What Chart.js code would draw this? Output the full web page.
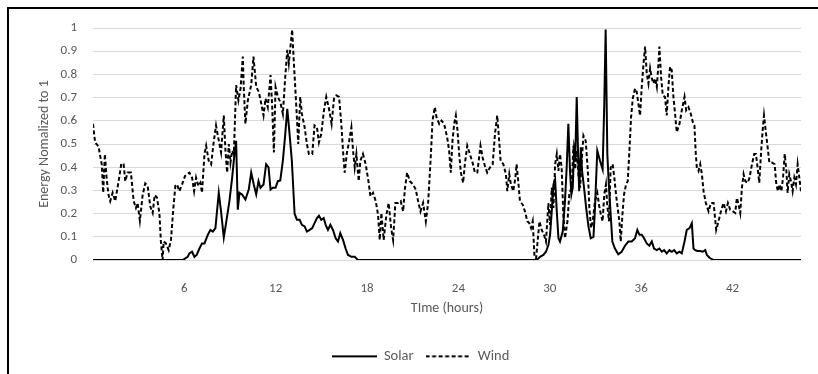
<!DOCTYPE html>
<html>
<head>
<meta charset="utf-8">
<script src="https://cdn.jsdelivr.net/npm/chart.js@4"></script>
<style>
  html, body { margin: 0; padding: 0; background: #fff; overflow: hidden; }
  .frame {
    position: absolute; left: 7px; top: 7px; width: 900px; height: 500px;
    border-top: 2px solid #000; border-left: 2px solid #000;
  }
  #chart { position: absolute; left: 0; top: 0; }
</style>
</head>
<body>
<div class="frame"></div>
<canvas id="chart" width="818" height="374"></canvas>
<script>
// hours and normalized values
const solarHours = [0, 5.89, 6.22, 6.33, 6.51, 6.66, 6.81, 6.99, 7.16, 7.32, 7.54, 7.71, 7.87, 8.04, 8.26, 8.41, 8.59, 8.79, 8.96, 9.14,
  9.29, 9.4, 9.51, 9.62, 9.79, 10.01, 10.23, 10.39, 10.56, 10.72, 10.87, 11.0, 11.2, 11.37, 11.53, 11.66, 11.81, 11.99, 12.14, 12.3,
  12.47, 12.62, 12.76, 12.91, 13.06, 13.24, 13.39, 13.57, 13.72, 13.9, 14.05, 14.23, 14.4, 14.55, 14.71, 14.84, 14.99, 15.15, 15.28, 15.43,
  15.59, 15.76, 15.94, 16.09, 16.24, 16.42, 16.59, 16.75, 16.97, 17.19, 17.41, 29.14, 29.36, 29.58, 29.75, 29.91, 30.02, 30.13, 30.24, 30.35,
  30.46, 30.57, 30.67, 30.85, 31.0, 31.11, 31.22, 31.33, 31.42, 31.51, 31.6, 31.68, 31.77, 31.86, 31.93, 32.04, 32.12, 32.25, 32.39, 32.54,
  32.69, 32.87, 32.97, 33.12, 33.3, 33.47, 33.58, 33.67, 33.78, 33.89, 34.0, 34.11, 34.28, 34.5, 34.72, 34.94, 35.16, 35.38, 35.6, 35.75,
  35.89, 36.04, 36.19, 36.37, 36.54, 36.7, 36.85, 37.03, 37.2, 37.36, 37.51, 37.68, 37.86, 38.01, 38.17, 38.34, 38.52, 38.67, 38.85, 39.0,
  39.18, 39.33, 39.44, 39.55, 39.7, 39.88, 40.05, 40.21, 40.32, 40.49, 40.76, 46.5];
const solarValues = [0, 0, 0.014, 0.029, 0.036, 0.014, 0.022, 0.05, 0.072, 0.072, 0.109, 0.13, 0.123, 0.138, 0.29, 0.21, 0.097, 0.181, 0.254, 0.355,
  0.457, 0.514, 0.217, 0.29, 0.283, 0.261, 0.304, 0.377, 0.326, 0.283, 0.34, 0.312, 0.326, 0.413, 0.399, 0.304, 0.312, 0.312, 0.34, 0.343,
  0.428, 0.536, 0.652, 0.543, 0.428, 0.2, 0.174, 0.174, 0.152, 0.145, 0.123, 0.13, 0.138, 0.159, 0.181, 0.191, 0.174, 0.181, 0.152, 0.13,
  0.152, 0.13, 0.094, 0.08, 0.116, 0.087, 0.05, 0.022, 0.014, 0.014, 0, 0, 0.014, 0.022, 0.036, 0.065, 0.109, 0.21, 0.326, 0.348,
  0.21, 0.094, 0.08, 0.123, 0.254, 0.399, 0.587, 0.384, 0.283, 0.312, 0.486, 0.457, 0.703, 0.457, 0.297, 0.486, 0.384, 0.312, 0.225, 0.145,
  0.094, 0.1, 0.225, 0.471, 0.428, 0.391, 0.674, 0.993, 0.457, 0.312, 0.196, 0.08, 0.05, 0.025, 0.036, 0.062, 0.08, 0.08, 0.094, 0.13,
  0.109, 0.109, 0.094, 0.072, 0.062, 0.08, 0.05, 0.043, 0.05, 0.036, 0.043, 0.029, 0.043, 0.036, 0.043, 0.029, 0.036, 0.029, 0.08, 0.13,
  0.138, 0.159, 0.05, 0.043, 0.039, 0.039, 0.036, 0.043, 0.022, 0.01, 0, 0];

const windHours = [0, 0.14, 0.36, 0.58, 0.67, 0.78, 0.89, 1.02, 1.13, 1.29, 1.46, 1.72, 1.86, 2.01, 2.12, 2.27, 2.49, 2.67, 2.82, 2.93,
  3.08, 3.26, 3.43, 3.59, 3.76, 3.92, 4.05, 4.2, 4.36, 4.46, 4.57, 4.64, 4.79, 4.97, 5.12, 5.28, 5.41, 5.52, 5.67, 5.85,
  6.04, 6.22, 6.33, 6.51, 6.64, 6.77, 6.92, 7.05, 7.16, 7.32, 7.43, 7.6, 7.76, 7.91, 8.08, 8.26, 8.41, 8.59, 8.7, 8.81,
  8.92, 9.03, 9.14, 9.25, 9.4, 9.55, 9.69, 9.84, 9.9, 10.01, 10.17, 10.39, 10.54, 10.72, 10.89, 11.05, 11.2, 11.33, 11.48, 11.66,
  11.77, 11.88, 11.99, 12.14, 12.3, 12.47, 12.62, 12.76, 12.86, 12.97, 13.08, 13.17, 13.3, 13.39, 13.48, 13.61, 13.72, 13.9, 14.05, 14.18,
  14.4, 14.55, 14.71, 14.84, 14.99, 15.17, 15.32, 15.5, 15.67, 15.83, 15.98, 16.16, 16.31, 16.42, 16.53, 16.68, 16.81, 16.97, 17.08, 17.19,
  17.3, 17.45, 17.56, 17.73, 17.91, 18.09, 18.22, 18.39, 18.57, 18.72, 18.83, 18.94, 19.09, 19.27, 19.42, 19.58, 19.71, 19.86, 20.04, 20.21,
  20.37, 20.48, 20.63, 20.81, 21.02, 21.2, 21.35, 21.51, 21.68, 21.86, 22.01, 22.17, 22.3, 22.45, 22.56, 22.74, 22.89, 23.06, 23.26, 23.39,
  23.5, 23.61, 23.72, 23.83, 23.94, 24.05, 24.16, 24.31, 24.42, 24.58, 24.75, 24.93, 25.08, 25.24, 25.37, 25.45, 25.59, 25.74, 25.89, 26.07,
  26.25, 26.4, 26.55, 26.66, 26.77, 26.95, 27.12, 27.21, 27.34, 27.45, 27.6, 27.74, 27.82, 27.93, 28.04, 28.22, 28.37, 28.53, 28.66, 28.77,
  28.88, 28.99, 29.1, 29.2, 29.32, 29.47, 29.62, 29.75, 29.91, 30.02, 30.13, 30.24, 30.35, 30.46, 30.57, 30.67, 30.78, 30.89, 31.0, 31.16,
  31.29, 31.44, 31.55, 31.66, 31.77, 31.88, 31.99, 32.1, 32.21, 32.36, 32.5, 32.6, 32.71, 32.82, 32.97, 33.12, 33.25, 33.36, 33.47, 33.58,
  33.69, 33.78, 33.89, 34.0, 34.13, 34.24, 34.35, 34.46, 34.57, 34.66, 34.77, 34.88, 35.01, 35.12, 35.23, 35.34, 35.45, 35.6, 35.71, 35.82,
  35.93, 36.04, 36.15, 36.26, 36.37, 36.48, 36.59, 36.7, 36.81, 36.92, 37.03, 37.14, 37.2, 37.31, 37.42, 37.57, 37.68, 37.79, 37.9, 38.01,
  38.12, 38.23, 38.34, 38.52, 38.67, 38.85, 38.96, 39.11, 39.26, 39.4, 39.5, 39.59, 39.66, 39.77, 39.88, 39.99, 40.1, 40.25, 40.43, 40.58,
  40.76, 40.93, 41.08, 41.24, 41.41, 41.57, 41.7, 41.85, 42.03, 42.18, 42.29, 42.4, 42.51, 42.62, 42.73, 42.84, 43.0, 43.12, 43.28, 43.43,
  43.54, 43.65, 43.76, 43.87, 43.98, 44.07, 44.18, 44.31, 44.42, 44.59, 44.77, 44.88, 44.99, 45.1, 45.21, 45.32, 45.43, 45.54, 45.62, 45.73,
  45.84, 45.95, 46.06, 46.17, 46.28, 46.39, 46.5];
const windValues = [0.587, 0.507, 0.49, 0.41, 0.29, 0.457, 0.355, 0.28, 0.254, 0.29, 0.254, 0.355, 0.416, 0.413, 0.34, 0.377, 0.377, 0.254, 0.225, 0.246,
  0.17, 0.28, 0.33, 0.32, 0.232, 0.203, 0.28, 0.27, 0.203, 0.08, 0, 0.08, 0.072, 0.043, 0.087, 0.225, 0.32, 0.326, 0.297, 0.326,
  0.362, 0.372, 0.377, 0.355, 0.297, 0.355, 0.319, 0.333, 0.29, 0.457, 0.493, 0.428, 0.413, 0.5, 0.58, 0.515, 0.464, 0.623, 0.471, 0.377,
  0.5, 0.42, 0.471, 0.457, 0.754, 0.688, 0.739, 0.877, 0.746, 0.587, 0.688, 0.754, 0.877, 0.746, 0.725, 0.674, 0.623, 0.696, 0.659, 0.797,
  0.659, 0.464, 0.746, 0.703, 0.681, 0.63, 0.783, 0.906, 0.848, 0.92, 0.993, 0.877, 0.725, 0.616, 0.5, 0.703, 0.63, 0.572, 0.5, 0.457,
  0.457, 0.58, 0.572, 0.507, 0.543, 0.645, 0.703, 0.652, 0.587, 0.696, 0.71, 0.703, 0.587, 0.471, 0.377, 0.464, 0.507, 0.572, 0.471, 0.399,
  0.457, 0.34, 0.428, 0.457, 0.413, 0.34, 0.275, 0.29, 0.254, 0.196, 0.087, 0.203, 0.087, 0.196, 0.246, 0.138, 0.087, 0.246, 0.246, 0.254,
  0.21, 0.304, 0.377, 0.34, 0.326, 0.304, 0.254, 0.21, 0.246, 0.167, 0.246, 0.428, 0.601, 0.659, 0.616, 0.587, 0.601, 0.587, 0.529, 0.471,
  0.377, 0.514, 0.587, 0.623, 0.558, 0.457, 0.377, 0.333, 0.413, 0.493, 0.457, 0.42, 0.377, 0.377, 0.449, 0.493, 0.442, 0.406, 0.377, 0.399,
  0.413, 0.543, 0.623, 0.529, 0.428, 0.413, 0.37, 0.297, 0.37, 0.326, 0.297, 0.355, 0.413, 0.34, 0.254, 0.239, 0.21, 0.167, 0.159, 0.138,
  0.167, 0.022, 0.007, 0.08, 0.167, 0.13, 0.109, 0.08, 0.246, 0.152, 0.312, 0.225, 0.413, 0.457, 0.384, 0.457, 0.399, 0.196, 0.094, 0.167,
  0.29, 0.312, 0.493, 0.391, 0.471, 0.37, 0.312, 0.428, 0.536, 0.514, 0.384, 0.225, 0.138, 0.167, 0.254, 0.29, 0.232, 0.196, 0.167, 0.283,
  0.326, 0.232, 0.167, 0.399, 0.413, 0.355, 0.283, 0.225, 0.167, 0.08, 0.196, 0.283, 0.326, 0.34, 0.471, 0.616, 0.696, 0.739, 0.725, 0.674,
  0.623, 0.746, 0.841, 0.92, 0.804, 0.761, 0.826, 0.783, 0.761, 0.783, 0.746, 0.848, 0.92, 0.79, 0.71, 0.703, 0.623, 0.746, 0.833, 0.819,
  0.703, 0.63, 0.551, 0.587, 0.645, 0.703, 0.645, 0.659, 0.63, 0.594, 0.58, 0.457, 0.399, 0.384, 0.413, 0.37, 0.297, 0.246, 0.21, 0.246,
  0.246, 0.13, 0.167, 0.21, 0.246, 0.21, 0.246, 0.217, 0.21, 0.203, 0.268, 0.239, 0.203, 0.312, 0.37, 0.34, 0.333, 0.355, 0.413, 0.457,
  0.457, 0.399, 0.333, 0.457, 0.558, 0.623, 0.558, 0.486, 0.42, 0.42, 0.413, 0.326, 0.297, 0.326, 0.297, 0.355, 0.457, 0.384, 0.29, 0.37,
  0.34, 0.297, 0.355, 0.326, 0.413, 0.355, 0.297];

const hourTicks = [6, 12, 18, 24, 30, 36, 42];

const toPoints = (xs, ys) => xs.map((x, i) => ({ x: x, y: ys[i] }));

// legend swatch: a short line, solid or dashed, drawn on a small canvas
function lineSwatch(dash) {
  const c = document.createElement('canvas');
  c.width = 45;
  c.height = 4;
  const g = c.getContext('2d');
  g.strokeStyle = '#000';
  g.lineWidth = 2;
  g.setLineDash(dash);
  g.beginPath();
  g.moveTo(0, 2);
  g.lineTo(45, 2);
  g.stroke();
  return c;
}

// the legend sits a bit right of the canvas centre in the original
const legendShift = {
  id: 'legendShift',
  afterLayout(chart) {
    chart.legend.left += 20;
    chart.legend.right += 20;
  }
};

Chart.defaults.font.family = "Carlito, Calibri, 'Liberation Sans Narrow', 'Open Sans', sans-serif";
Chart.defaults.color = '#595959';

const ctx = document.getElementById('chart').getContext('2d');

new Chart(ctx, {
  type: 'line',
  data: {
    datasets: [
      {
        label: 'Solar',
        data: toPoints(solarHours, solarValues),
        borderColor: '#000',
        backgroundColor: '#000',
        borderWidth: 2,
        pointRadius: 0,
        tension: 0,
        swatch: lineSwatch([])
      },
      {
        label: 'Wind',
        data: toPoints(windHours, windValues),
        borderColor: '#000',
        backgroundColor: '#000',
        borderWidth: 2,
        borderDash: [4, 2.5],
        pointRadius: 0,
        tension: 0,
        swatch: lineSwatch([4, 2.5])
      }
    ]
  },
  plugins: [legendShift],
  options: {
    responsive: false,
    animation: false,
    devicePixelRatio: 1,
    layout: { padding: { top: 28, right: 17, bottom: 0.4, left: 0 } },
    plugins: {
      tooltip: { enabled: false },
      legend: {
        position: 'bottom',
        labels: {
          usePointStyle: true,
          pointStyleWidth: 45,
          padding: 12,
          color: '#595959',
          font: { size: 14.5 },
          generateLabels: (chart) => {
            const items = Chart.defaults.plugins.legend.labels.generateLabels(chart);
            items.forEach(item => {
              item.pointStyle = chart.data.datasets[item.datasetIndex].swatch;
            });
            return items;
          }
        }
      }
    },
    scales: {
      x: {
        type: 'linear',
        min: 0,
        max: 46.5,
        afterBuildTicks: (scale) => {
          scale.ticks = hourTicks.map(v => ({ value: v }));
        },
        afterFit: (scale) => { scale.height = 77; },
        grid: { display: false },
        border: { display: false },
        ticks: { padding: 13, maxRotation: 0, font: { size: 13 }, color: '#595959' },
        title: {
          display: true,
          text: 'TIme (hours)',
          color: '#595959',
          font: { size: 14 },
          padding: { top: 0, bottom: 20 }
        }
      },
      y: {
        min: 0,
        max: 1,
        afterFit: (scale) => { scale.width = 93; },
        grid: { color: '#d9d9d9', lineWidth: 1, drawTicks: false },
        border: { display: false },
        ticks: {
          stepSize: 0.1,
          padding: 16,
          font: { size: 13 },
          color: '#595959',
          callback: (value) => String(Number(value.toFixed(1)))
        },
        title: {
          display: true,
          text: 'Energy Nomalized to 1',
          color: '#595959',
          font: { size: 14 },
          padding: { top: 36, bottom: 0 }
        }
      }
    }
  }
});
</script>
</body>
</html>
